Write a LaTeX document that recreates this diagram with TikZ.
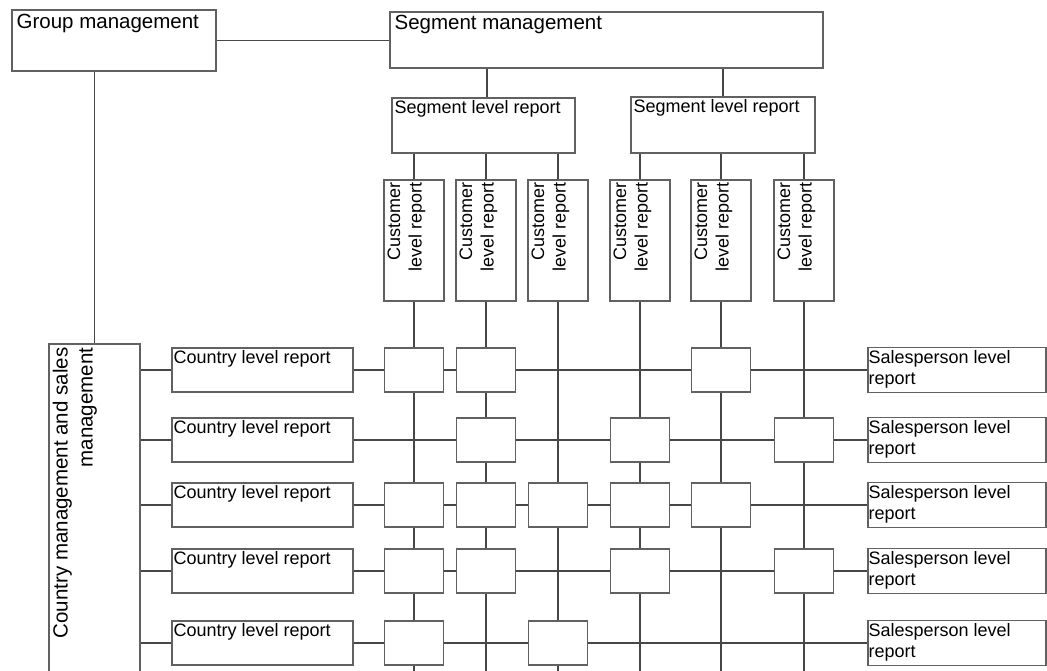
\documentclass[tikz,border=0pt]{standalone}
\usepackage{fontspec}
\setmainfont{Liberation Sans}
\pgfdeclarelayer{paper}
\pgfdeclarelayer{bg}
\pgfsetlayers{paper,bg,main}
\begin{document}
\begin{tikzpicture}[x=1pt,y=-1pt,
  box/.style={draw=black!62, line width=1.1pt, fill=white, rectangle, inner sep=0pt},
  mbox/.style={box, minimum width=59pt, minimum height=44pt},
  cubox/.style={box, minimum width=60pt, minimum height=121pt},
  clbox/.style={box, minimum width=181pt, minimum height=44pt},
  spbox/.style={box, minimum width=178pt, minimum height=45pt},
  txts/.style={inner sep=0pt, align=left, font=\fontsize{18}{21.5}\selectfont},
  txtb/.style={inner sep=0pt, align=left, font=\fontsize{20.5}{25}\selectfont},
  conn/.style={draw=black!72, line width=1.1pt}]
\useasboundingbox (0,0) rectangle (1047,671);
\begin{pgfonlayer}{paper}
  \fill[white] (0,0) rectangle (1047,671);
\end{pgfonlayer}
\clip (0,0) rectangle (1047,671);

% management boxes
\node[box, minimum width=204pt, minimum height=61pt] (g) at (114,40.5) {};
\node[txtb, anchor=north west] (gt) at ([shift={(5pt,-5pt)}]g.north west) {Group management};
\node[box, minimum width=433pt, minimum height=56pt] (sm) at (606.5,40) {};
\node[txtb, anchor=north west] (smt) at ([shift={(5pt,-4pt)}]sm.north west) {Segment management};
\node[box, minimum width=91pt, minimum height=376pt] (cm) at (94.5,532) {};
\node[txtb, rotate=90, anchor=north east, align=right] (cmt) at ([shift={(4pt,-4pt)}]cm.north west) {Country management and sales\\management};

% segment level reports
\node[box, minimum width=183pt, minimum height=55pt] (sr1) at (483.5,125.5) {};
\node[txts, anchor=north west] (sr1t) at ([shift={(3pt,-3pt)}]sr1.north west) {Segment level report};
\node[box, minimum width=184pt, minimum height=56pt] (sr2) at (723,125) {};
\node[txts, anchor=north west] (sr2t) at ([shift={(3pt,-3pt)}]sr2.north west) {Segment level report};

% customer level reports
\foreach \i/\x in {1/414,2/486,3/558,4/640,5/721,6/804}{
  \node[cubox] (cu\i) at (\x,240.5) {};
  \node[txts, rotate=90, anchor=north east, align=right] (cu\i t) at ([shift={(4pt,-3pt)}]cu\i.north west) {Customer\\level report};
}

% country and salesperson level reports
\foreach \r/\y in {1/370,2/440,3/505,4/571,5/643}{
  \node[clbox] (cl\r) at (262.5,\y) {};
  \node[txts, anchor=north west] (cl\r t) at ([shift={(2pt,-3pt)}]cl\r.north west) {Country level report};
  \node[spbox] (sp\r) at (957,\y) {};
  \node[txts, anchor=north west] (sp\r t) at ([shift={(1pt,-3pt)}]sp\r.north west) {Salesperson level\\report};
}

% matrix of crossing reports (row/column)
\foreach \r/\y in {1/370,2/440,3/505,4/571,5/643}{
  \foreach \c/\x in {1/414,2/486,3/558,4/640,5/721,6/804}{
    \coordinate (p\r\c) at (\x,\y);
  }
}
\foreach \r/\c in {1/1,1/2,1/5, 2/2,2/4,2/6, 3/1,3/2,3/3,3/4,3/5, 4/1,4/2,4/4,4/6, 5/1,5/3}{
  \node[mbox] (m\r\c) at (p\r\c) {};
}

\coordinate (bot) at (0,700);

\begin{pgfonlayer}{bg}
  \draw[conn] (g.east) -- (g.east -| sm.west);
  \draw[conn] (cm.north) -- (cm.north |- g.south);
  \draw[conn] ([xshift=3.5pt]sr1.north) -- ([xshift=3.5pt]sr1.north |- sm.south);
  \draw[conn] (sr2.north) -- (sr2.north |- sm.south);
  \foreach \i in {1,2,3}{\draw[conn] (cu\i.north) -- (cu\i.north |- sr1.south);}
  \foreach \i in {4,5,6}{\draw[conn] (cu\i.north) -- (cu\i.north |- sr2.south);}
  \foreach \i in {1,...,6}{\draw[conn] (cu\i.south) -- (cu\i.south |- bot);}
  \foreach \r in {1,...,5}{
    \draw[conn] (cl\r.west -| cm.east) -- (cl\r.west);
    \draw[conn] (cl\r.east) -- (sp\r.west);
  }
\end{pgfonlayer}
\end{tikzpicture}
\end{document}
